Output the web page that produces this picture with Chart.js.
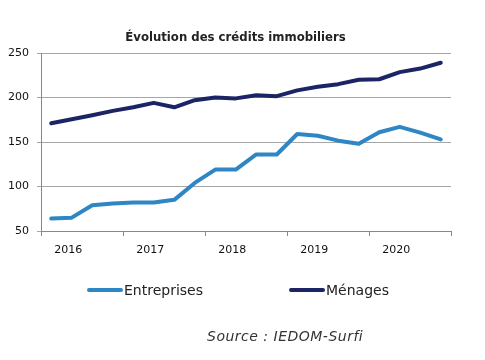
<!DOCTYPE html>
<html>
<head>
<meta charset="utf-8">
<script src="https://cdn.jsdelivr.net/npm/chart.js@4/dist/chart.umd.min.js"></script>
<style>
  html,body{margin:0;padding:0;background:#fff;}
  #wrap{position:relative;width:485px;height:360px;}
  #myChart{position:absolute;left:0;top:0;}
  .ttl{position:absolute;left:0;width:471px;top:29px;line-height:16px;text-align:center;font:bold 13px "DejaVu Sans Condensed","DejaVu Sans",sans-serif;color:#222;white-space:nowrap;}
  .leg{position:absolute;font:14px "DejaVu Sans",sans-serif;color:#222;white-space:nowrap;}
  .leg span{display:inline-block;vertical-align:middle;}
  .src{position:absolute;left:207px;top:328px;font:italic 14px "DejaVu Sans",sans-serif;letter-spacing:0.5px;color:#333;white-space:nowrap;}
</style>
</head>
<body>
<div id="wrap">
  <canvas id="myChart" width="485" height="360"></canvas>
  <div class="ttl">Évolution des crédits immobiliers</div>
  <div id="legend"></div>
  <div class="src">Source : IEDOM-Surfi</div>
</div>
<script>
// données trimestrielles 2016-2020
var years=['2016','2017','2018','2019','2020'];
var quarters=['T1','T2','T3','T4'];
var entreprises=[64,65,79,81,82,82,85,104,119,119,136,136,159,157,151.5,148,161,167,160.5,153];
var menages=[171,175.5,180,185,189,194,189,197,200,199,202.5,201.5,208,212,215,220,220.5,228.5,232.5,239];
var yTicks=[50,100,150,200,250];

var labels=[];
for(var i=0;i<years.length;i++){
    for(var j=0;j<quarters.length;j++){
        labels.push(quarters[j]+' '+years[i]);
    }
}

var ctx=document.getElementById('myChart').getContext('2d');
var chart=new Chart(ctx,{
    type:'line',
    data:{
        labels:labels,
        datasets:[{
            label:'Entreprises',
            data:entreprises,
            borderColor:'rgb(46,134,196)',
            backgroundColor:'rgb(46,134,196)',
            borderWidth:4,
            pointRadius:0,
            tension:0,
            borderCapStyle:'round',
            borderJoinStyle:'round'
        },{
            label:'Ménages',
            data:menages,
            borderColor:'rgb(27,36,100)',
            backgroundColor:'rgb(27,36,100)',
            borderWidth:4,
            pointRadius:0,
            tension:0,
            borderCapStyle:'round',
            borderJoinStyle:'round'
        }]
    },
    options:{
        responsive:false,
        animation:false,
        layout:{padding:{left:0,right:34,top:53,bottom:0}},
        plugins:{
            legend:{display:false},
            tooltip:{enabled:false},
            title:{display:false}
        },
        scales:{
            x:{
                type:'category',
                offset:true,
                grid:{
                    offset:true,
                    drawOnChartArea:false,
                    drawTicks:true,
                    tickLength:5,
                    tickColor:function(c){
                        return (c.index===undefined||c.index%4===0)?'#888':'rgba(0,0,0,0)';
                    }
                },
                border:{display:true,color:'#888',width:1},
                ticks:{
                    autoSkip:false,
                    maxRotation:0,
                    labelOffset:-3.5,
                    padding:8,
                    color:'#111',
                    font:{family:'"DejaVu Sans", sans-serif',size:11},
                    callback:function(v,i){
                        return i%4===1?years[Math.floor(i/4)]:'';
                    }
                },
                afterFit:function(s){s.height=129;}
            },
            y:{
                min:50,
                max:250,
                afterBuildTicks:function(s){
                    s.ticks=yTicks.map(function(v){return {value:v};});
                },
                grid:{color:'#a6a6a6',lineWidth:1,tickLength:4},
                border:{display:true,color:'#888',width:1},
                ticks:{
                    padding:8,
                    color:'#111',
                    font:{family:'"DejaVu Sans", sans-serif',size:11}
                },
                afterFit:function(s){s.width=41;}
            }
        }
    }
});

// légende en HTML, construite depuis les datasets
var legPos=[{line:87,text:124},{line:289,text:326}];
var legend=document.getElementById('legend');
chart.data.datasets.forEach(function(ds,k){
    var d=document.createElement('div');
    d.className='leg';
    d.style.left=legPos[k].line+'px';
    d.style.top='281px';
    var w=legPos[k].text-legPos[k].line-1;
    d.innerHTML='<span style="width:'+w+'px;height:4px;border-radius:2px;background:'+ds.borderColor+';margin-right:1px"></span><span>'+ds.label+'</span>';
    legend.appendChild(d);
});
</script>
</body>
</html>
